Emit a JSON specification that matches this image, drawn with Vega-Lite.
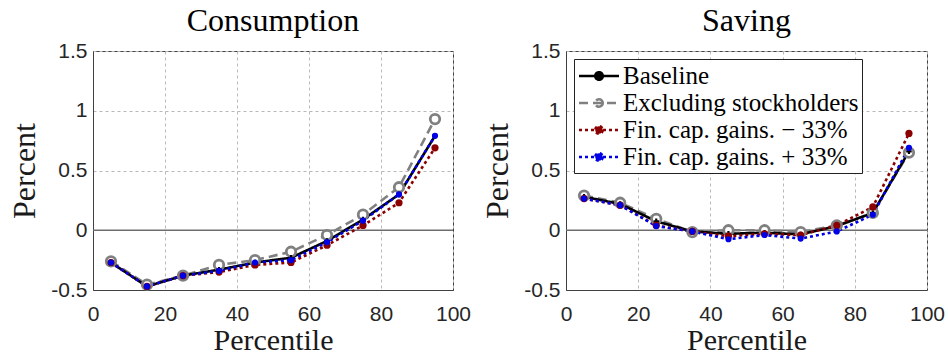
{
  "$schema": "https://vega.github.io/schema/vega-lite/v6.json",
  "background": "white",
  "padding": {"left": 8, "top": 4, "right": 5, "bottom": 0},
  "spacing": 113,
  "bounds": "flush",
  "datasets": {
    "d": [
      {"panel": "Consumption", "series": "Excluding stockholders", "pct": 5, "value": -0.26},
      {"panel": "Consumption", "series": "Excluding stockholders", "pct": 15, "value": -0.455},
      {"panel": "Consumption", "series": "Excluding stockholders", "pct": 25, "value": -0.38},
      {"panel": "Consumption", "series": "Excluding stockholders", "pct": 35, "value": -0.29},
      {"panel": "Consumption", "series": "Excluding stockholders", "pct": 45, "value": -0.25},
      {"panel": "Consumption", "series": "Excluding stockholders", "pct": 55, "value": -0.18},
      {"panel": "Consumption", "series": "Excluding stockholders", "pct": 65, "value": -0.04},
      {"panel": "Consumption", "series": "Excluding stockholders", "pct": 75, "value": 0.13},
      {"panel": "Consumption", "series": "Excluding stockholders", "pct": 85, "value": 0.36},
      {"panel": "Consumption", "series": "Excluding stockholders", "pct": 95, "value": 0.93},
      {"panel": "Consumption", "series": "Baseline", "pct": 5, "value": -0.27},
      {"panel": "Consumption", "series": "Baseline", "pct": 15, "value": -0.47},
      {"panel": "Consumption", "series": "Baseline", "pct": 25, "value": -0.38},
      {"panel": "Consumption", "series": "Baseline", "pct": 35, "value": -0.33},
      {"panel": "Consumption", "series": "Baseline", "pct": 45, "value": -0.27},
      {"panel": "Consumption", "series": "Baseline", "pct": 55, "value": -0.23},
      {"panel": "Consumption", "series": "Baseline", "pct": 65, "value": -0.09},
      {"panel": "Consumption", "series": "Baseline", "pct": 75, "value": 0.09},
      {"panel": "Consumption", "series": "Baseline", "pct": 85, "value": 0.3},
      {"panel": "Consumption", "series": "Baseline", "pct": 95, "value": 0.79},
      {"panel": "Consumption", "series": "Fin. cap. gains. − 33%", "pct": 5, "value": -0.27},
      {"panel": "Consumption", "series": "Fin. cap. gains. − 33%", "pct": 15, "value": -0.47},
      {"panel": "Consumption", "series": "Fin. cap. gains. − 33%", "pct": 25, "value": -0.38},
      {"panel": "Consumption", "series": "Fin. cap. gains. − 33%", "pct": 35, "value": -0.35},
      {"panel": "Consumption", "series": "Fin. cap. gains. − 33%", "pct": 45, "value": -0.29},
      {"panel": "Consumption", "series": "Fin. cap. gains. − 33%", "pct": 55, "value": -0.27},
      {"panel": "Consumption", "series": "Fin. cap. gains. − 33%", "pct": 65, "value": -0.125},
      {"panel": "Consumption", "series": "Fin. cap. gains. − 33%", "pct": 75, "value": 0.04},
      {"panel": "Consumption", "series": "Fin. cap. gains. − 33%", "pct": 85, "value": 0.23},
      {"panel": "Consumption", "series": "Fin. cap. gains. − 33%", "pct": 95, "value": 0.69},
      {"panel": "Consumption", "series": "Fin. cap. gains. + 33%", "pct": 5, "value": -0.27},
      {"panel": "Consumption", "series": "Fin. cap. gains. + 33%", "pct": 15, "value": -0.47},
      {"panel": "Consumption", "series": "Fin. cap. gains. + 33%", "pct": 25, "value": -0.38},
      {"panel": "Consumption", "series": "Fin. cap. gains. + 33%", "pct": 35, "value": -0.34},
      {"panel": "Consumption", "series": "Fin. cap. gains. + 33%", "pct": 45, "value": -0.27},
      {"panel": "Consumption", "series": "Fin. cap. gains. + 33%", "pct": 55, "value": -0.25},
      {"panel": "Consumption", "series": "Fin. cap. gains. + 33%", "pct": 65, "value": -0.1},
      {"panel": "Consumption", "series": "Fin. cap. gains. + 33%", "pct": 75, "value": 0.08},
      {"panel": "Consumption", "series": "Fin. cap. gains. + 33%", "pct": 85, "value": 0.3},
      {"panel": "Consumption", "series": "Fin. cap. gains. + 33%", "pct": 95, "value": 0.79},
      {"panel": "Saving", "series": "Excluding stockholders", "pct": 5, "value": 0.29},
      {"panel": "Saving", "series": "Excluding stockholders", "pct": 15, "value": 0.23},
      {"panel": "Saving", "series": "Excluding stockholders", "pct": 25, "value": 0.095},
      {"panel": "Saving", "series": "Excluding stockholders", "pct": 35, "value": -0.015},
      {"panel": "Saving", "series": "Excluding stockholders", "pct": 45, "value": 0.0},
      {"panel": "Saving", "series": "Excluding stockholders", "pct": 55, "value": 0.0},
      {"panel": "Saving", "series": "Excluding stockholders", "pct": 65, "value": -0.015},
      {"panel": "Saving", "series": "Excluding stockholders", "pct": 75, "value": 0.04},
      {"panel": "Saving", "series": "Excluding stockholders", "pct": 85, "value": 0.145},
      {"panel": "Saving", "series": "Excluding stockholders", "pct": 95, "value": 0.65},
      {"panel": "Saving", "series": "Baseline", "pct": 5, "value": 0.28},
      {"panel": "Saving", "series": "Baseline", "pct": 15, "value": 0.22},
      {"panel": "Saving", "series": "Baseline", "pct": 25, "value": 0.075},
      {"panel": "Saving", "series": "Baseline", "pct": 35, "value": -0.01},
      {"panel": "Saving", "series": "Baseline", "pct": 45, "value": -0.03},
      {"panel": "Saving", "series": "Baseline", "pct": 55, "value": -0.02},
      {"panel": "Saving", "series": "Baseline", "pct": 65, "value": -0.035},
      {"panel": "Saving", "series": "Baseline", "pct": 75, "value": 0.035},
      {"panel": "Saving", "series": "Baseline", "pct": 85, "value": 0.145},
      {"panel": "Saving", "series": "Baseline", "pct": 95, "value": 0.66},
      {"panel": "Saving", "series": "Fin. cap. gains. − 33%", "pct": 5, "value": 0.265},
      {"panel": "Saving", "series": "Fin. cap. gains. − 33%", "pct": 15, "value": 0.21},
      {"panel": "Saving", "series": "Fin. cap. gains. − 33%", "pct": 25, "value": 0.04},
      {"panel": "Saving", "series": "Fin. cap. gains. − 33%", "pct": 35, "value": -0.01},
      {"panel": "Saving", "series": "Fin. cap. gains. − 33%", "pct": 45, "value": -0.05},
      {"panel": "Saving", "series": "Fin. cap. gains. − 33%", "pct": 55, "value": -0.03},
      {"panel": "Saving", "series": "Fin. cap. gains. − 33%", "pct": 65, "value": -0.04},
      {"panel": "Saving", "series": "Fin. cap. gains. − 33%", "pct": 75, "value": 0.04},
      {"panel": "Saving", "series": "Fin. cap. gains. − 33%", "pct": 85, "value": 0.195},
      {"panel": "Saving", "series": "Fin. cap. gains. − 33%", "pct": 95, "value": 0.81},
      {"panel": "Saving", "series": "Fin. cap. gains. + 33%", "pct": 5, "value": 0.265},
      {"panel": "Saving", "series": "Fin. cap. gains. + 33%", "pct": 15, "value": 0.21},
      {"panel": "Saving", "series": "Fin. cap. gains. + 33%", "pct": 25, "value": 0.035},
      {"panel": "Saving", "series": "Fin. cap. gains. + 33%", "pct": 35, "value": -0.01},
      {"panel": "Saving", "series": "Fin. cap. gains. + 33%", "pct": 45, "value": -0.075},
      {"panel": "Saving", "series": "Fin. cap. gains. + 33%", "pct": 55, "value": -0.04},
      {"panel": "Saving", "series": "Fin. cap. gains. + 33%", "pct": 65, "value": -0.07},
      {"panel": "Saving", "series": "Fin. cap. gains. + 33%", "pct": 75, "value": -0.01},
      {"panel": "Saving", "series": "Fin. cap. gains. + 33%", "pct": 85, "value": 0.13},
      {"panel": "Saving", "series": "Fin. cap. gains. + 33%", "pct": 95, "value": 0.69}
    ],
    "zero": [{"y": 0}]
  },
  "resolve": {"legend": {"color": "independent"}},
  "hconcat": [
    {
      "width": 360,
      "height": 239,
      "title": {"text": "Consumption"},
      "data": {"name": "d"},
      "transform": [{"filter": "datum.panel === 'Consumption'"}],
      "encoding": {
        "x": {"field": "pct", "type": "quantitative", "scale": {"domain": [0, 100], "nice": false}, "axis": {"title": "Percentile", "values": [0, 20, 40, 60, 80, 100]}},
        "y": {"field": "value", "type": "quantitative", "scale": {"domain": [-0.5, 1.5], "nice": false}, "axis": {"title": "Percent", "values": [-0.5, 0, 0.5, 1, 1.5], "labelExpr": "replace(toString(datum.value), '\u2212', '-')"}}
      },
      "layer": [
        {
          "data": {"name": "zero"},
          "mark": {"type": "rule", "color": "#6e6e6e", "strokeWidth": 1.5},
          "encoding": {"x": null, "y": {"field": "y", "type": "quantitative"}}
        },
        {
          "mark": {"type": "line", "strokeWidth": 2.6},
          "encoding": {
            "color": {"field": "series", "type": "nominal", "scale": {"domain": ["Baseline", "Excluding stockholders", "Fin. cap. gains. − 33%", "Fin. cap. gains. + 33%"], "range": ["#000000", "#808080", "#8b0000", "#0000e6"]}, "legend": null},
            "strokeDash": {"field": "series", "type": "nominal", "scale": {"domain": ["Baseline", "Excluding stockholders", "Fin. cap. gains. − 33%", "Fin. cap. gains. + 33%"], "range": [[1, 0], [9, 5], [3, 3], [3, 3]]}, "legend": null}
          }
        },
        {
          "transform": [{"filter": "datum.series === 'Excluding stockholders'"}],
          "mark": {"type": "point", "shape": "circle", "filled": false, "fill": "#ffffff", "fillOpacity": 1, "stroke": "#808080", "strokeWidth": 2.8, "size": 90, "opacity": 1}
        },
        {
          "transform": [{"filter": "datum.series === 'Baseline'"}],
          "mark": {"type": "point", "shape": "cross", "filled": true, "color": "#000000", "size": 30, "opacity": 1}
        },
        {
          "transform": [{"filter": "datum.series === 'Fin. cap. gains. − 33%'"}],
          "mark": {"type": "point", "shape": "circle", "filled": true, "color": "#8b0000", "size": 52, "opacity": 1}
        },
        {
          "transform": [{"filter": "datum.series === 'Fin. cap. gains. + 33%'"}],
          "mark": {"type": "point", "shape": "circle", "filled": true, "color": "#0000e6", "size": 38, "opacity": 1}
        }
      ]
    },
    {
      "width": 361,
      "height": 239,
      "title": {"text": "Saving"},
      "data": {"name": "d"},
      "transform": [{"filter": "datum.panel === 'Saving'"}],
      "encoding": {
        "x": {"field": "pct", "type": "quantitative", "scale": {"domain": [0, 100], "nice": false}, "axis": {"title": "Percentile", "values": [0, 20, 40, 60, 80, 100]}},
        "y": {"field": "value", "type": "quantitative", "scale": {"domain": [-0.5, 1.5], "nice": false}, "axis": {"title": "Percent", "values": [-0.5, 0, 0.5, 1, 1.5], "labelExpr": "replace(toString(datum.value), '\u2212', '-')"}}
      },
      "layer": [
        {
          "data": {"name": "zero"},
          "mark": {"type": "rule", "color": "#6e6e6e", "strokeWidth": 1.5},
          "encoding": {"x": null, "y": {"field": "y", "type": "quantitative"}}
        },
        {
          "mark": {"type": "line", "strokeWidth": 2.6},
          "encoding": {
            "color": {
              "field": "series", "type": "nominal",
              "scale": {"domain": ["Baseline", "Excluding stockholders", "Fin. cap. gains. − 33%", "Fin. cap. gains. + 33%"], "range": ["#000000", "#808080", "#8b0000", "#0000e6"]},
              "legend": {
                "title": null,
                "orient": "top-left",
                "offset": 8,
                "padding": 3,
                "strokeColor": "#222222",
                "fillColor": "#ffffff",
                "labelFont": "Liberation Serif",
                "labelFontSize": 25,
                "labelColor": "#000000",
                "labelLimit": 500,
                "labelOffset": 10,
                "rowPadding": 0,
                "symbolType": "M-1.6,0L1.6,0M0.3,0A0.3,0.3,0,1,1,-0.3,0A0.3,0.3,0,1,1,0.3,0Z",
                "symbolSize": 625,
                "symbolStrokeWidth": 2.6,
                "symbolOffset": 8,
                "encode": {
                  "symbols": {
                    "update": {
                      "fill": {"signal": "datum.value === 'Excluding stockholders' ? '#ffffff' : datum.value === 'Baseline' ? '#000000' : datum.value === 'Fin. cap. gains. + 33%' ? '#0000e6' : '#8b0000'"},
                      "strokeDash": {"signal": "datum.value === 'Excluding stockholders' ? [9,5] : datum.value === 'Baseline' ? [1,0] : [3,3]"}
                    }
                  }
                }
              }
            },
            "strokeDash": {"field": "series", "type": "nominal", "scale": {"domain": ["Baseline", "Excluding stockholders", "Fin. cap. gains. − 33%", "Fin. cap. gains. + 33%"], "range": [[1, 0], [9, 5], [3, 3], [3, 3]]}, "legend": null}
          }
        },
        {
          "transform": [{"filter": "datum.series === 'Excluding stockholders'"}],
          "mark": {"type": "point", "shape": "circle", "filled": false, "fill": "#ffffff", "fillOpacity": 1, "stroke": "#808080", "strokeWidth": 2.8, "size": 90, "opacity": 1}
        },
        {
          "transform": [{"filter": "datum.series === 'Baseline'"}],
          "mark": {"type": "point", "shape": "cross", "filled": true, "color": "#000000", "size": 30, "opacity": 1}
        },
        {
          "transform": [{"filter": "datum.series === 'Fin. cap. gains. − 33%'"}],
          "mark": {"type": "point", "shape": "circle", "filled": true, "color": "#8b0000", "size": 52, "opacity": 1}
        },
        {
          "transform": [{"filter": "datum.series === 'Fin. cap. gains. + 33%'"}],
          "mark": {"type": "point", "shape": "circle", "filled": true, "color": "#0000e6", "size": 38, "opacity": 1}
        }
      ]
    }
  ],
  "config": {
    "view": {"stroke": "#404040", "strokeWidth": 1},
    "axis": {
      "grid": true,
      "gridColor": "#b8b8b8",
      "gridDash": [3, 3],
      "gridWidth": 1,
      "domainColor": "#404040",
      "ticks": false,
      "labelFont": "Liberation Sans",
      "labelFontSize": 21,
      "labelColor": "#262626",
      "labelFlush": false,
      "labelOverlap": false,
      "titleFont": "Liberation Serif",
      "titleFontSize": 32,
      "titleFontWeight": "normal",
      "titleColor": "#1a1a1a"
    },
    "axisX": {"labelPadding": 13, "titlePadding": 1, "titleFontSize": 30},
    "axisY": {"labelPadding": 6, "titlePadding": 9},
    "title": {"font": "Liberation Serif", "fontSize": 32, "fontWeight": "normal", "color": "#000000", "offset": 2}
  }
}
